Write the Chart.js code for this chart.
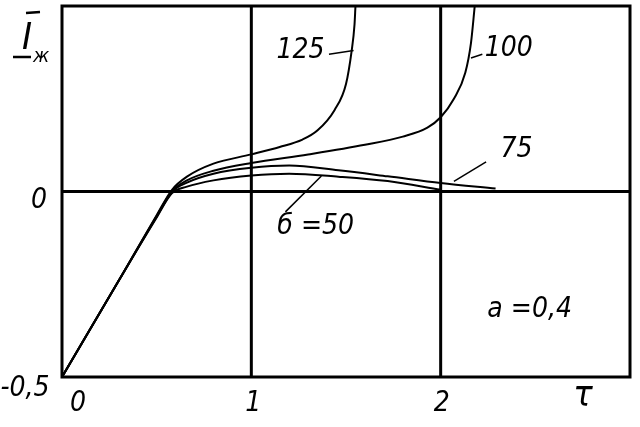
<!DOCTYPE html>
<html>
<head>
<meta charset="utf-8">
<script src="https://cdn.jsdelivr.net/npm/chart.js@4"></script>
<style>
  body { margin: 0; background: #fff; }
  canvas { display: block; }
</style>
</head>
<body>
<canvas id="chart" width="640" height="427"></canvas>
<script>
// curves for b = 50, 75, 100, 125 (tau, I*)
const tau50 = [0, 0.3, 0.5, 0.58, 0.66, 0.8, 1.0, 1.2, 1.46, 1.72, 2.0];
const i50   = [-0.5, -0.24, -0.07, -0.005, 0.013, 0.03, 0.043, 0.048, 0.04, 0.028, 0.005];

const tau75 = [0, 0.3, 0.5, 0.58, 0.66, 0.8, 1.0, 1.2, 1.46, 1.72, 2.0, 2.29];
const i75   = [-0.5, -0.24, -0.068, -0.002, 0.024, 0.048, 0.064, 0.07, 0.057, 0.041, 0.023, 0.008];

const tau100 = [0, 0.3, 0.5, 0.58, 0.66, 0.8, 1.0, 1.3, 1.6, 1.8, 1.93, 2.0, 2.07, 2.13, 2.16, 2.18];
const i100   = [-0.5, -0.24, -0.066, 0.0, 0.03, 0.056, 0.077, 0.1, 0.126, 0.148, 0.172, 0.2, 0.25, 0.32, 0.4, 0.5];

const tau125 = [0, 0.3, 0.5, 0.58, 0.66, 0.8, 1.0, 1.15, 1.27, 1.35, 1.44, 1.5, 1.53, 1.545, 1.55];
const i125   = [-0.5, -0.24, -0.064, 0.004, 0.04, 0.075, 0.1, 0.12, 0.14, 0.165, 0.22, 0.29, 0.38, 0.45, 0.5];

const xTickValues = [0, 1, 2];
const xTickLabels = ["0", "1", "2"];
const yTickValues = [-0.5, 0];
const yTickLabels = ["-0,5", "0"];

const FAMILY = "'DejaVu Sans Condensed', 'DejaVu Sans', sans-serif";
const FONT = "italic 28px " + FAMILY;

function pts(xs, ys) {
    return xs.map((x, i) => ({ x: x, y: ys[i] }));
}

function curve(label, xs, ys) {
    return {
        label: label,
        data: pts(xs, ys),
        borderColor: "#000",
        borderWidth: 2,
        pointRadius: 0,
        fill: false,
        cubicInterpolationMode: "monotone",
    };
}

const framePlugin = {
    id: "frame",
    beforeDatasetsDraw(chart) {
        const { ctx, chartArea: a, scales } = chart;
        ctx.save();
        ctx.strokeStyle = "#000";
        ctx.lineWidth = 3;
        // grid at x = 1, 2 and y = 0
        xTickValues.forEach(v => {
            if (v === 0) return;
            const px = scales.x.getPixelForValue(v);
            ctx.beginPath();
            ctx.moveTo(px, a.top);
            ctx.lineTo(px, a.bottom);
            ctx.stroke();
        });
        yTickValues.forEach(v => {
            if (v === -0.5) return;
            const py = scales.y.getPixelForValue(v);
            ctx.beginPath();
            ctx.moveTo(a.left, py);
            ctx.lineTo(a.right, py);
            ctx.stroke();
        });
        ctx.strokeRect(a.left, a.top, a.right - a.left, a.bottom - a.top);
        ctx.restore();
    },
    afterDatasetsDraw(chart) {
        const { ctx, chartArea: a, scales } = chart;
        const X = v => scales.x.getPixelForValue(v);
        const Y = v => scales.y.getPixelForValue(v);
        ctx.save();
        ctx.fillStyle = "#000";
        ctx.strokeStyle = "#000";
        ctx.font = FONT;
        ctx.textAlign = "center";
        ctx.textBaseline = "middle";

        // tick labels
        const xOff = [16, 2, 1];
        xTickValues.forEach((v, i) => ctx.fillText(xTickLabels[i], X(v) + xOff[i], a.bottom + 27));
        ctx.fillText(yTickLabels[0], 25, Y(-0.5) + 12);
        ctx.fillText(yTickLabels[1], 39, Y(0) + 9);

        // axis titles
        ctx.font = "italic 36px " + FAMILY;
        ctx.fillText("τ", 583, a.bottom + 20);
        ctx.font = "italic 38px " + FAMILY;
        ctx.fillText("I", 27, 39);
        ctx.font = "italic 20px " + FAMILY;
        ctx.fillText("ж", 41, 57);
        ctx.lineWidth = 2.5;
        ctx.beginPath();
        ctx.moveTo(26, 13); ctx.lineTo(40, 12);
        ctx.moveTo(13, 57); ctx.lineTo(31, 57);
        ctx.stroke();

        // curve labels
        ctx.font = FONT;
        ctx.fillText("125", X(1.26), Y(0.38));
        ctx.fillText("100", X(2.36), Y(0.385));
        ctx.fillText("75", X(2.4), Y(0.112));
        ctx.fillText("б =50", X(1.34), Y(-0.095));
        ctx.fillText("a =0,4", X(2.47), Y(-0.318));

        // leader lines
        ctx.lineWidth = 1.5;
        const leaders = [
            [1.41, 0.37, 1.54, 0.38],
            [2.16, 0.36, 2.22, 0.37],
            [2.07, 0.027, 2.24, 0.08],
            [1.37, 0.042, 1.18, -0.055],
        ];
        leaders.forEach(l => {
            ctx.beginPath();
            ctx.moveTo(X(l[0]), Y(l[1]));
            ctx.lineTo(X(l[2]), Y(l[3]));
            ctx.stroke();
        });
        ctx.restore();
    }
};

new Chart(document.getElementById("chart"), {
    type: "line",
    data: {
        datasets: [
            curve("50", tau50, i50),
            curve("75", tau75, i75),
            curve("100", tau100, i100),
            curve("125", tau125, i125),
        ],
    },
    options: {
        responsive: false,
        animation: false,
        layout: { padding: { left: 62, right: 10, top: 6, bottom: 50 } },
        plugins: { legend: { display: false }, tooltip: { enabled: false } },
        scales: {
            x: { type: "linear", min: 0, max: 3, display: false },
            y: { type: "linear", min: -0.5, max: 0.5, display: false },
        },
    },
    plugins: [framePlugin],
});
</script>
</body>
</html>
